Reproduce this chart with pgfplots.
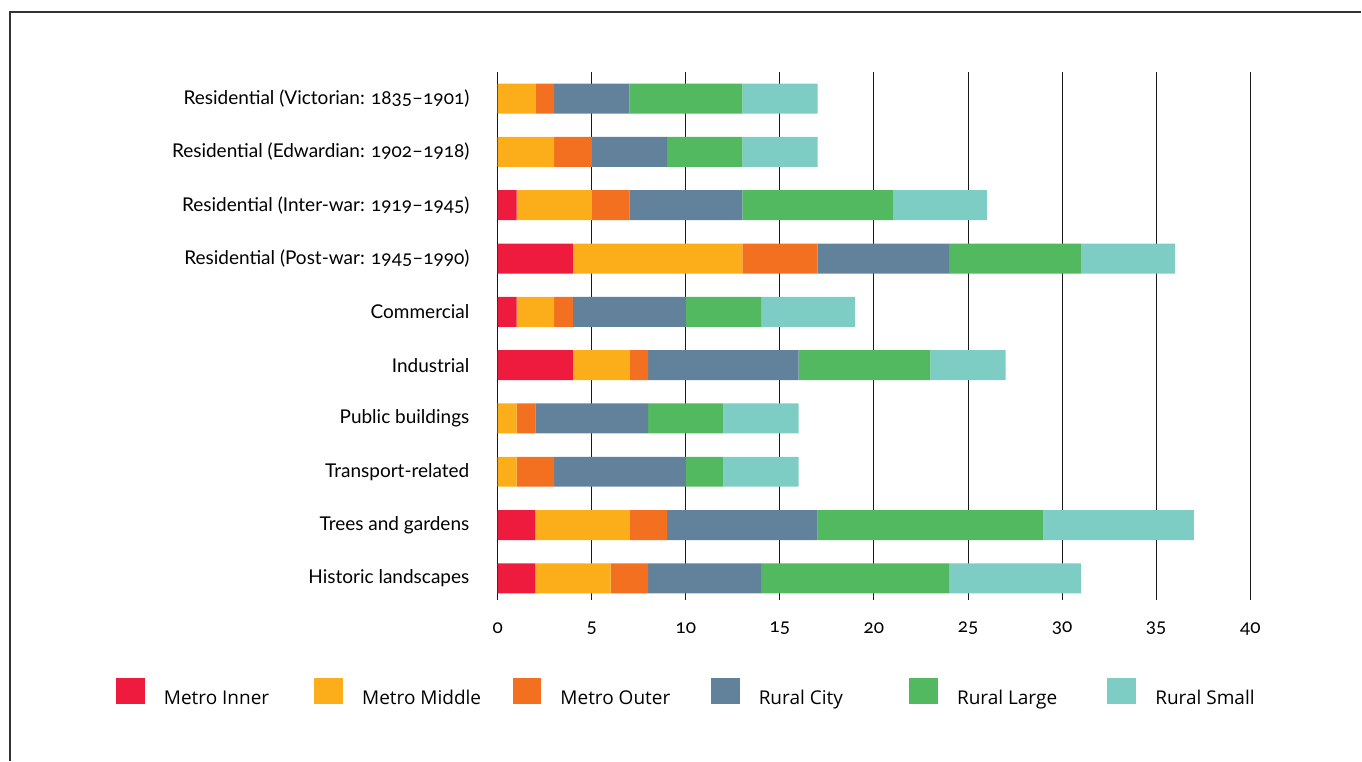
\documentclass[border=0pt]{standalone}
\usepackage{fontspec}
\setmainfont{Lato}[Numbers=OldStyle]
\newfontfamily\legendfont{Open Sans}
\usepackage{pgfplots}
\usepackage{pgfplotstable}
\pgfplotsset{compat=1.18}
\definecolor{cInner}{HTML}{EE1B3E}
\definecolor{cMiddle}{HTML}{FBAD1A}
\definecolor{cOuter}{HTML}{F37021}
\definecolor{cCity}{HTML}{62829C}
\definecolor{cLarge}{HTML}{52B961}
\definecolor{cSmall}{HTML}{7ECDC5}
\pgfplotstableread{
idx inner middle outer city large small
0 0 2 1 4 6 4
1 0 3 2 4 4 4
2 1 4 2 6 8 5
3 4 9 4 7 7 5
4 1 2 1 6 4 5
5 4 3 1 8 7 4
6 0 1 1 6 4 4
7 0 1 2 7 2 4
8 2 5 2 8 12 8
9 2 4 2 6 10 7
}\datatable
\newcommand{\legtext}[1]{\raisebox{-7.5pt}{\makebox[75.2pt][l]{#1}}}
\begin{document}
\begin{tikzpicture}
\begin{axis}[
  at={(0,0)}, anchor=south west,
  scale only axis,
  width=376.5pt, height=264pt,
  xbar stacked,
  bar width=15pt,
  y dir=reverse,
  xmin=0, xmax=40,
  ymin=-0.5, ymax=9.4,
  xtick={0,5,...,40},
  ytick={0,...,9},
  yticklabels={Residential (Victorian: 1835–1901),Residential (Edwardian: 1902–1918),Residential (Inter-war: 1919–1945),Residential (Post-war: 1945–1990),Commercial,Industrial,Public buildings,Transport-related,Trees and gardens,Historic landscapes},
  /pgf/number format/assume math mode=true,
  tick label style={font=\fontsize{9.5}{11}\selectfont},
  yticklabel style={anchor=east, inner sep=0pt, xshift=-14pt},
  xticklabel style={anchor=center, inner sep=0pt, yshift=-14.5pt},
  axis line style={draw=none},
  major tick style={draw=none},
  xmajorgrids,
  major grid style={black!90, line width=0.5pt},
  legsq/.style={draw=none, fill=#1, legend image code/.code={\fill[fill=#1,draw=none] (0pt,-6.5pt) rectangle (14.5pt,6.5pt);}},
  legend columns=6,
  legend style={at={(-0.5073,-0.1723)}, anchor=west, draw=none, fill=none,
    inner sep=0pt, outer sep=0pt,
    font=\legendfont\fontsize{9.5}{11}\selectfont,
    nodes={inner sep=0pt, outer sep=0pt},
    /tikz/every odd column/.append style={column sep=9.5pt},
    /tikz/every even column/.append style={column sep=0pt}},
]
\addplot[legsq=cInner] table[x=inner,y=idx]{\datatable};
\addlegendentry{\legtext{Metro Inner}}
\addplot[legsq=cMiddle] table[x=middle,y=idx]{\datatable};
\addlegendentry{\legtext{Metro Middle}}
\addplot[legsq=cOuter] table[x=outer,y=idx]{\datatable};
\addlegendentry{\legtext{Metro Outer}}
\addplot[legsq=cCity] table[x=city,y=idx]{\datatable};
\addlegendentry{\legtext{Rural City}}
\addplot[legsq=cLarge] table[x=large,y=idx]{\datatable};
\addlegendentry{\legtext{Rural Large}}
\addplot[legsq=cSmall] table[x=small,y=idx]{\datatable};
\addlegendentry{\legtext{Rural Small}}
\end{axis}
\draw[color=black!80, line width=0.8pt] (-244pt,-80.5pt) -- (-244pt,294pt) -- (432pt,294pt);
\path[use as bounding box] (-249pt,-80.5pt) rectangle (432pt,300pt);
\end{tikzpicture}
\end{document}
